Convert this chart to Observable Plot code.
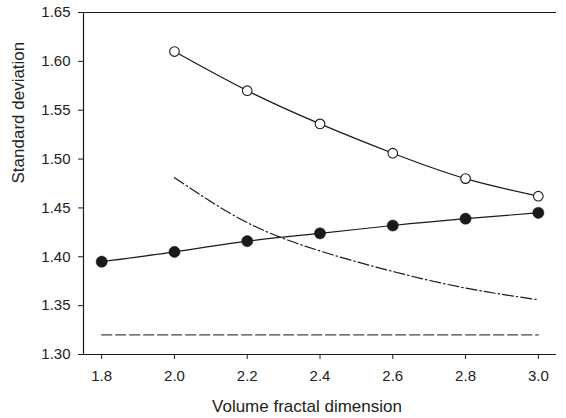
<!DOCTYPE html>
<html>
<head>
<meta charset="utf-8">
<script src="https://cdn.jsdelivr.net/npm/d3@7"></script>
<script src="https://cdn.jsdelivr.net/npm/@observablehq/plot@0.6"></script>
<style>
  html, body { margin: 0; padding: 0; background: #fff; }
  #chart svg { display: block; }
</style>
</head>
<body>
<div id="chart"></div>
<script>
// Tick values
const xTicks = [1.8, 2.0, 2.2, 2.4, 2.6, 2.8, 3.0];
const yTicks = [1.30, 1.35, 1.40, 1.45, 1.50, 1.55, 1.60, 1.65];

// Open circles series
const openX = [2.0, 2.2, 2.4, 2.6, 2.8, 3.0];
const openY = [1.610, 1.570, 1.536, 1.506, 1.480, 1.462];

// Filled circles series
const filledX = [1.8, 2.0, 2.2, 2.4, 2.6, 2.8, 3.0];
const filledY = [1.395, 1.405, 1.416, 1.424, 1.432, 1.439, 1.445];

// Dash-dot curve
const dashDotX = [2.0, 2.2, 2.4, 2.6, 2.8, 3.0];
const dashDotY = [1.481, 1.435, 1.406, 1.385, 1.368, 1.356];

// Dashed horizontal line
const dashedX = [1.8, 3.0];
const dashedY = [1.32, 1.32];

const xLabel = "Volume fractal dimension";
const yLabel = "Standard deviation";

const toRows = (xs, ys) => xs.map((x, i) => ({x, y: ys[i]}));
const openRows = toRows(openX, openY);
const filledRows = toRows(filledX, filledY);
const dashDotRows = toRows(dashDotX, dashDotY);
const dashedRows = toRows(dashedX, dashedY);

const ink = "#1a1a1a";

const chart = Plot.plot({
  width: 566,
  height: 418,
  marginLeft: 83,
  marginRight: 10,
  marginTop: 12,
  marginBottom: 64,
  style: {fontFamily: "Liberation Sans, Arial, sans-serif", color: "#222", background: "#fff"},
  x: {domain: [1.75, 3.05], axis: null},
  y: {domain: [1.30, 1.65], axis: null},
  marks: [
    Plot.ruleY([1.65], {stroke: ink, strokeWidth: 1.2}),
    Plot.ruleY([1.30], {stroke: ink, strokeWidth: 1.2}),
    Plot.ruleX([1.75], {stroke: ink, strokeWidth: 1.2}),
    Plot.axisX({ticks: xTicks, tickFormat: d3.format(".1f"), tickSize: 5, tickPadding: 11, fontSize: 15, label: null, stroke: ink}),
    Plot.axisY({ticks: yTicks, tickFormat: d3.format(".2f"), tickSize: 5, tickPadding: 8, fontSize: 15, label: null, stroke: ink}),
    Plot.line(dashedRows, {x: "x", y: "y", stroke: "#444", strokeWidth: 1.3, strokeDasharray: "10,4"}),
    Plot.line(dashDotRows, {x: "x", y: "y", curve: "natural", stroke: ink, strokeWidth: 1.2, strokeDasharray: "11,3,1.5,3"}),
    Plot.line(openRows, {x: "x", y: "y", curve: "natural", stroke: ink, strokeWidth: 1.2}),
    Plot.line(filledRows, {x: "x", y: "y", curve: "natural", stroke: ink, strokeWidth: 1.2}),
    Plot.dot(openRows, {x: "x", y: "y", r: 4.8, fill: "#fff", stroke: ink, strokeWidth: 1.1}),
    Plot.dot(filledRows, {x: "x", y: "y", r: 5.6, fill: ink, stroke: ink, strokeWidth: 0.5}),
    Plot.text([xLabel], {frameAnchor: "bottom", dx: -13, dy: 57, fontSize: 17, fill: "#222"}),
    Plot.text([yLabel], {frameAnchor: "left", dx: -65, rotate: -90, fontSize: 17, fill: "#222"})
  ]
});

document.getElementById("chart").appendChild(chart);
</script>
</body>
</html>
